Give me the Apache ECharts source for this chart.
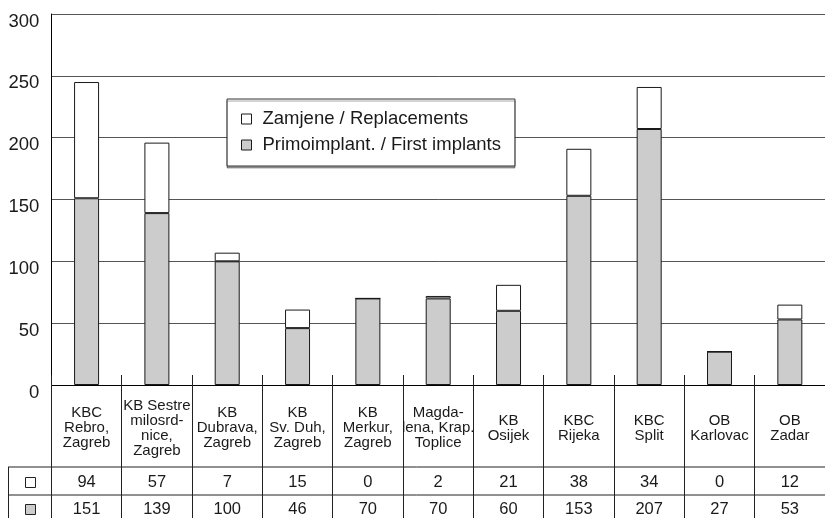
<!DOCTYPE html>
<html>
<head>
<meta charset="utf-8">
<script src="https://cdn.jsdelivr.net/npm/echarts@6/dist/echarts.min.js"></script>
<style>
html,body{margin:0;padding:0;background:#fff;}
#chart{width:825px;height:518px;}
</style>
</head>
<body>
<div id="chart"></div>
<script>
var categories = [
  'KBC\nRebro,\nZagreb',
  'KB Sestre\nmilosrd-\nnice,\nZagreb',
  'KB\nDubrava,\nZagreb',
  'KB\nSv. Duh,\nZagreb',
  'KB\nMerkur,\nZagreb',
  'Magda-\nlena, Krap.\nToplice',
  'KB\nOsijek',
  'KBC\nRijeka',
  'KBC\nSplit',
  'OB\nKarlovac',
  'OB\nZadar'
];
var replacements = [94, 57, 7, 15, 0, 2, 21, 38, 34, 0, 12];
var firstImplants = [151, 139, 100, 46, 70, 70, 60, 153, 207, 27, 53];
var yTicks = { min: 0, max: 300, interval: 50 };
var seriesNames = ['Zamjene / Replacements', 'Primoimplant. / First implants'];

var FONT = '"Liberation Sans", Arial, Helvetica, sans-serif';
var TXT = '#1a1a1a';
var GRAY = '#cccccc';
var EDGE = '#1a1a1a';

var chart = echarts.init(document.getElementById('chart'), null, { renderer: 'canvas' });

function hiddenAxisBase() {
  return {
    type: 'category', data: categories, gridIndex: 0, position: 'bottom',
    axisLine: { show: false }, axisTick: { show: false }, splitLine: { show: false }
  };
}

var option = {
  animation: false,
  backgroundColor: '#ffffff',
  textStyle: { fontFamily: FONT },
  grid: { left: 51.4, top: 14, right: -13.6, bottom: 133, containLabel: false },
  legend: {
    orient: 'vertical', left: 227, top: 99,
    data: [
      { name: seriesNames[0], itemStyle: { color: '#ffffff', borderColor: EDGE, borderWidth: 1 } },
      { name: seriesNames[1], itemStyle: { color: GRAY, borderColor: EDGE, borderWidth: 1 } }
    ],
    icon: 'rect', itemWidth: 10, itemHeight: 10, itemGap: 6,
    padding: [10, 14, 11, 14],
    backgroundColor: '#ffffff', borderColor: '#333', borderWidth: 1,
    shadowColor: 'rgba(0,0,0,0.35)', shadowOffsetX: 0, shadowOffsetY: 2, shadowBlur: 0,
    textStyle: { fontFamily: FONT, fontSize: 18.5, color: TXT, lineHeight: 20, padding: [0, 0, 0, 6] },
    selectedMode: false
  },
  xAxis: [
    {
      type: 'category', data: categories, gridIndex: 0, position: 'bottom',
      axisLine: { show: true, lineStyle: { color: '#000', width: 1 } },
      axisTick: { show: true, inside: true, interval: 0, length: 10, lineStyle: { color: '#222', width: 1 } },
      axisLabel: { interval: 0, fontFamily: FONT, fontSize: 15, lineHeight: 15, color: TXT,
        verticalAlign: 'middle', margin: 43, align: 'center' },
      splitLine: { show: false }
    },
    Object.assign(hiddenAxisBase(), {
      offset: 82,
      axisLabel: { interval: 0, fontFamily: FONT, fontSize: 16.5, color: TXT, verticalAlign: 'middle', margin: 15,
        formatter: function (v, i) { return String(replacements[i]); } }
    }),
    Object.assign(hiddenAxisBase(), {
      offset: 110,
      axisLabel: { interval: 0, fontFamily: FONT, fontSize: 16.5, color: TXT, verticalAlign: 'middle', margin: 14,
        formatter: function (v, i) { return String(firstImplants[i]); } }
    }),
    Object.assign(hiddenAxisBase(), {
      offset: 133,
      axisTick: { show: true, inside: true, interval: 0, length: 133, lineStyle: { color: '#222', width: 1 } },
      axisLabel: { show: false, interval: 0 }
    })
  ],
  yAxis: {
    type: 'value', min: yTicks.min, max: yTicks.max, interval: yTicks.interval,
    axisLine: { show: true, lineStyle: { color: '#000', width: 1 } },
    axisTick: { show: false },
    axisLabel: { fontFamily: FONT, fontSize: 18.5, color: TXT, margin: 12, verticalAlign: 'top', lineHeight: 15 },
    splitLine: { show: true, lineStyle: { color: '#555', width: 1 } }
  },
  series: [
    {
      name: seriesNames[1], type: 'bar', stack: 'total', data: firstImplants, barWidth: 25,
      itemStyle: { color: GRAY, borderColor: EDGE, borderWidth: 1 }
    },
    {
      name: seriesNames[0], type: 'bar', stack: 'total', data: replacements, barWidth: 25,
      itemStyle: { color: '#ffffff', borderColor: EDGE, borderWidth: 1 }
    }
  ],
  graphic: [
    { type: 'line', shape: { x1: 8, y1: 467, x2: 825, y2: 467 }, style: { stroke: '#222', lineWidth: 1 } },
    { type: 'line', shape: { x1: 8, y1: 495, x2: 825, y2: 495 }, style: { stroke: '#222', lineWidth: 1 } },
    { type: 'line', shape: { x1: 8.5, y1: 467, x2: 8.5, y2: 518 }, style: { stroke: '#222', lineWidth: 1 } },
    { type: 'rect', shape: { x: 25.5, y: 477.5, width: 10, height: 10 }, style: { fill: '#fff', stroke: '#222', lineWidth: 1 } },
    { type: 'rect', shape: { x: 25.5, y: 504.5, width: 10, height: 10 }, style: { fill: GRAY, stroke: '#222', lineWidth: 1 } }
  ]
};
chart.setOption(option);
</script>
</body>
</html>
